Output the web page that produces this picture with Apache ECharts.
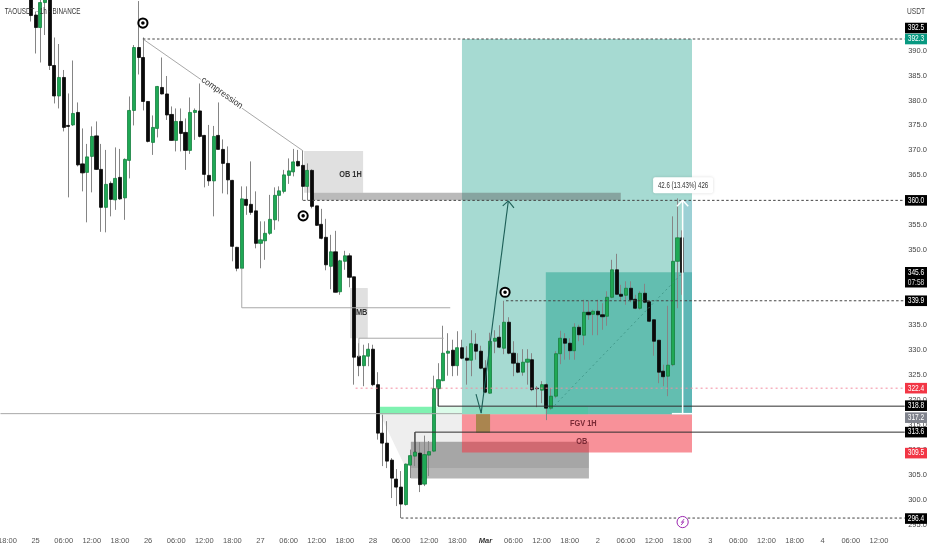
<!DOCTYPE html>
<html>
<head>
<meta charset="utf-8">
<style>html,body{margin:0;padding:0;background:#fff}#c{width:932px;height:550px}</style>
<script src="https://cdn.jsdelivr.net/npm/echarts@6/dist/echarts.min.js"></script>
</head>
<body>
<div id="c"></div>
<script>
// Hourly candles; the first one is hour 5 after the first 18:00 tick.
const firstHour = 5;
const opens = [404,397.1,394.6,399.6,404,387.0,380.9,384.6,375.0,375.1,377.6,367.3,365.6,368.8,372.9,366.2,358.6,363.4,360.1,364.6,360.5,368.0,378.0,390.6,388.6,379.8,371.6,374.4,382.6,381.3,377.2,372.0,375.8,373.6,370.0,377.6,377.9,373.0,365.0,363.9,373.0,370.2,367.4,364.0,350.6,346.4,360.2,359.2,357.9,351.4,351.9,353.4,356.1,361.0,361.8,365.0,365.7,367.8,367.0,362.8,366.0,358.9,355.2,352.6,346.8,349.7,341.7,347.8,348.9,344.7,328.8,326.9,328.8,330.2,323.1,313.4,311.4,308.0,304.2,302.6,299.1,307.0,308.8,309.4,303.2,309.0,309.8,322.3,323.9,329.4,330.0,326.9,330.5,328.4,328.0,331.2,329.8,326.4,321.4,331.8,332.6,330.4,335.6,329.4,327.4,325.6,327.6,328.1,322.4,322.0,323.1,318.4,320.8,329.3,332.3,331.4,329.9,334.6,333.0,337.6,337.2,337.8,337.1,336.8,340.6,346.1,341.2,341.0,342.4,340.2,338.4,341.4,339.7,336.1,332.0,325.8,324.8,327.1,347.8,352.5];
const closes = [397.0,394.6,399.6,402,387.0,380.9,384.6,374.6,374.8,377.4,367.1,365.5,368.7,372.8,366.2,358.6,363.2,360.2,364.4,360.3,368.2,378.0,390.6,388.6,379.8,371.8,374.6,382.8,381.3,377.1,372.0,375.8,373.4,370.0,377.6,378.0,372.8,365.2,363.9,372.8,370.2,367.4,364.1,350.8,346.4,360.3,359.0,357.6,351.4,352.1,353.4,356.2,361.0,361.9,365.1,365.9,367.7,366.9,362.8,366.0,358.8,355.0,352.4,347.1,349.7,341.6,347.9,348.9,344.6,328.6,326.9,328.9,330.2,323.1,313.4,311.4,307.8,304.4,302.6,299.2,307.2,308.9,309.6,303.1,309.1,309.7,322.3,324.1,329.4,329.8,326.9,330.5,328.4,328.0,331.3,329.8,326.4,321.6,331.8,332.4,330.6,335.6,329.4,327.4,325.6,327.6,328.2,322.1,322.3,323.1,318.4,320.8,329.3,332.4,331.4,329.9,334.6,333.1,337.6,337.1,337.8,337.1,336.7,340.6,346.1,341.2,340.8,342.4,340.1,338.4,341.4,339.6,335.8,331.8,325.6,324.7,327.0,347.8,352.5,345.6];
const lows = [395.8,389.4,387.6,393.1,386.1,379.4,378.4,373.8,360.6,374.9,366.8,361.8,355.6,361.6,366.1,353.7,353.6,356.8,358.1,360.1,356.1,364.4,375.0,385.2,378.0,371.6,369.1,372.6,381.2,376.1,372.0,369.8,369.8,366.1,369.3,372.1,372.6,362.6,362.9,356.8,370.2,361.4,361.2,347.8,345.8,346.2,357.1,357.1,350.4,346.4,348.1,353.1,354.1,355.8,361.4,363.3,364.8,366.8,360.0,360.0,358.4,354.9,352.2,346.0,342.2,341.6,341.1,346.1,342.6,323.1,324.8,322.8,326.8,322.8,312.1,306.8,306.4,300.4,298.8,296.4,298.9,304.4,306.8,301.6,302.8,304.8,309.6,318.8,323.8,324.9,324.8,324.9,328.2,323.1,324.8,328.1,326.2,321.4,321.3,329.4,330.4,329.2,329.2,324.8,325.4,324.9,323.1,321.8,318.6,319.4,316.0,318.1,320.4,327.2,328.1,328.1,328.1,331.8,331.0,336.1,333.0,333.0,334.1,334.9,340.4,341.1,339.8,339.1,339.6,338.2,338.1,339.4,335.6,328.9,323.4,322.8,320.8,326.8,338.4,341.1];
const highs = [406,397.8,400.6,403,405,392.6,391.3,386.1,381.4,388.0,379.6,374.4,371.3,374.8,375.8,371.3,370.1,363.8,370.6,370.3,368.4,380.8,391.1,399.9,392.6,379.8,377.0,382.9,388.6,384.9,378.8,378.4,378.4,376.4,380.6,378.4,383.4,373.1,375.1,374.9,379.6,372.2,370.8,364.1,350.7,362.8,362.8,367.8,361.8,355.8,355.8,361.1,362.6,362.8,366.1,368.4,370.3,370.1,370.0,367.4,366.2,358.9,358.3,356.3,353.1,353.9,348.1,349.9,349.4,344.7,331.4,331.1,331.4,331.1,325.6,317.1,315.8,308.4,306.2,305.8,307.3,310.1,313.6,311.6,312.9,311.8,324.9,327.4,334.9,333.4,332.1,333.8,332.1,330.8,334.0,333.4,330.9,328.0,333.5,334,335,339.9,336.6,331.8,329.4,330.2,330.2,329.4,322.8,323.8,323.4,322.4,329.8,333.9,333.4,332.4,335.4,335.1,340.1,339.8,338.1,340.1,339.4,341.8,348.1,349.3,343.1,343.8,343.8,341.1,341.8,343.3,340.0,336.1,332.0,327.1,338.9,356.8,360.4,354.0];

// One label for every 6 hours, starting at the first 18:00.
const tickLabels = ["18:00","25","06:00","12:00","18:00","26","06:00","12:00","18:00","27","06:00","12:00","18:00","28","06:00","12:00","18:00","Mar","06:00","12:00","18:00","2","06:00","12:00","18:00","3","06:00","12:00","18:00","4","06:00","12:00"];
const hourFrom = -1, hourCount = 193;

// Filled zones, in hours and prices.
const zoneNames = ["ob1h","mb","greyA","greyB","target","stop","progress","tail","fvgStrong","fvgSoft","entry","obBar"];
const zoneLeft  = [63.3,73.1,86.1,86.1,97.0,97.0,114.9,144.2,79.5,90.8,100.0,65.2];
const zoneRight = [75.9,76.9,124.1,124.1,146.1,146.1,146.1,146.1,90.8,123.9,103.0,130.9];
const zoneTop   = [369.9,342.45,311.7,306.4,392.3,317.2,345.6,360.0,318.7,318.7,317.2,361.5];
const zoneBase  = [361.5,332.4,306.4,304.3,317.2,309.5,317.2,317.2,317.2,317.2,313.5,360.0];
const zoneFill  = {ob1h:"rgba(120,120,120,.23)",mb:"rgba(120,120,120,.23)",greyA:"rgba(70,70,70,.48)",greyB:"rgba(70,70,70,.4)",target:"rgba(8,153,129,.36)",stop:"rgba(242,54,69,.55)",progress:"rgba(8,153,129,.42)",tail:"rgba(41,98,255,.08)",fvgStrong:"rgba(0,230,100,.5)",fvgSoft:"rgba(0,230,100,.14)",entry:"rgba(150,130,60,.8)",obBar:"rgba(90,90,90,.42)"};
// Pale gap under the green band.
const gapHours  = [79.5,97.0,97.0,86.1,86.1,84.8];
const gapPrices = [317.2,317.2,311.7,311.7,306.8,306.8];

// Drawn lines: [hour, price, hour, price].
const dashedLevels = [[28.9,392.3,191.5,392.3],[63.1,360.0,191.5,360.0],[106.4,339.9,191.5,339.9],[84.0,296.4,191.5,296.4]];
const dottedLevels = [[74.3,322.4,191.5,322.4]];
const solidLevels  = [[91.9,318.8,191.5,318.8],[91.9,318.8,91.9,322.3],[87.0,313.6,191.5,313.6],[87.0,313.6,87.0,309.6]];
const greyLines    = [[28.9,392.3,63.1,369.9],[50.0,346.4,50.0,338.5],[50.0,338.5,94.5,338.5],[75.0,328.6,75.0,332.4],[75.0,332.4,93.1,332.4],[-1.5,317.3,97.0,317.3]];
const arrowLines   = [[100.0,321.2,101.1,317.4],[101.1,317.4,106.9,359.9],[105.7,358.9,106.9,359.9],[106.9,359.9,108.1,358.5]];
const measureLines = [[144.1,360.0,144.1,317.2],[141.8,317.3,146.1,317.3],[142.9,358.8,144.1,360.0],[144.1,360.0,145.3,358.8]];
const measureTrend = [[116.0,318.2,144.2,345.6]];

// Eye markers and the lightning marker.
const eyeHours = [28.9,63.1,106.2], eyePrices = [395.5,356.9,341.6];
const flashHour = 144.1, flashPrice = 295.6;

// Notes on the chart.
const noteText  = ["compression","OB 1H","MB","FGV 1H","OB"];
const noteHour  = [45.8,73.2,75.6,122.9,122.6];
const notePrice = [381.5,365.1,337.6,315.4,311.7];
const measureText = "42.6 (13.43%) 426", measureHour = 144.2, measurePrice = 363.0;
const symbolText = "TAOUSDT · 1h · BINANCE", symbolHour = -0.6, symbolPrice = 397.8;
const currencyText = "USDT", currencyHour = 193.9, currencyPrice = 397.7;

// Price tags: text, where it sits, and its kind.
const tagText  = ["392.5","392.3","360.0","345.6","339.9","322.4","318.8","317.2","313.6","309.5","296.4"];
const tagPrice = [394.5,392.3,360.0,345.6,339.9,322.4,318.9,316.5,313.6,309.4,296.3];
const tagKind  = ["k","t","k","k","k","r","k","g","k","r","k"];
const tagFill  = {k:"#000000",t:"#089981",r:"#f23645",g:"#80838d"};
const clockText = "07:58";

const FONT = '"Liberation Sans",sans-serif';
const GREEN = "#1fa855", DARK = "#0a0a0a", WICK = "#858585";

const cats = Array.from({length:hourCount},(_,k)=>String(hourFrom+k));
const pad = Array.from({length:firstHour-hourFrom},()=>["-","-","-","-"]);
const wickData = pad.concat(opens.map((o,k)=>[o,closes[k],lows[k],highs[k]]));
const bodyData = pad.concat(opens.map((o,k)=>[o,closes[k],Math.min(o,closes[k]),Math.max(o,closes[k])]));

function custom(count,z,draw){
  return {type:"custom",xAxisIndex:1,yAxisIndex:0,z:z,silent:true,clip:false,
    data:Array.from({length:count},(_,k)=>[k,340]),
    renderItem:(p,api)=>draw(p.dataIndex,(h,v)=>api.coord([h,v]))};
}
function segs(rows,style,z){
  return custom(rows.length,z,(k,xy)=>{
    const a=xy(rows[k][0],rows[k][1]),b=xy(rows[k][2],rows[k][3]);
    return {type:"line",shape:{x1:a[0],y1:a[1],x2:b[0],y2:b[1]},style:style};
  });
}
const noteStyle = k => k===0
  ? {fill:"#333",font:'9px '+FONT,backgroundColor:"#fff",padding:[0,1]}
  : k>=3 ? {fill:"#7a2a36",font:'bold 9px '+FONT}
  : {fill:"#333",font:'bold 9px '+FONT};

const option = {
  animation:false,
  backgroundColor:"#fff",
  grid:{left:0.47,right:27.3,top:0.55,height:524.5,outerBoundsMode:"none"},
  xAxis:[
    {type:"category",data:cats,boundaryGap:true,
     axisLine:{show:false},axisTick:{show:false},splitLine:{show:false},
     axisLabel:{margin:12,color:"#555",fontFamily:FONT,fontSize:7.5,hideOverlap:false,
       interval:(k,v)=>{const h=+v;return h>=0&&h%6===0&&h/6<tickLabels.length;},
       formatter:v=>{const t=tickLabels[(+v)/6];return t==="Mar"?"{m|Mar}":t;},
       rich:{m:{fontStyle:"italic",fontWeight:"bold",color:"#333",fontFamily:FONT,fontSize:7.5}}}},
    {type:"value",show:false,min:hourFrom-0.5,max:hourFrom+hourCount-0.5,splitLine:{show:false}}
  ],
  yAxis:{type:"value",position:"right",min:295,max:400,interval:5,scale:true,
    axisLine:{show:false},axisTick:{show:false},splitLine:{show:false},
    axisLabel:{margin:3.5,color:"#444",fontFamily:FONT,fontSize:7.5,showMaxLabel:false,
      formatter:v=>v>390?"":v.toFixed(1)}},
  series:[
    custom(1,1,(k,xy)=>({type:"polygon",shape:{points:gapHours.map((h,n)=>xy(h,gapPrices[n]))},style:{fill:"#eeeeee"}})),
    custom(zoneNames.length,1,(k,xy)=>{
      const a=xy(zoneLeft[k],zoneTop[k]),b=xy(zoneRight[k],zoneBase[k]);
      return {type:"rect",shape:{x:a[0],y:a[1],width:b[0]-a[0],height:b[1]-a[1]},style:{fill:zoneFill[zoneNames[k]]}};
    }),
    {type:"candlestick",xAxisIndex:0,yAxisIndex:0,z:3,data:wickData,barWidth:1,silent:true,
     itemStyle:{color:WICK,color0:WICK,borderColor:WICK,borderColor0:WICK,borderWidth:1}},
    {type:"candlestick",xAxisIndex:0,yAxisIndex:0,z:4,data:bodyData,barWidth:3.6,silent:true,
     itemStyle:{color:GREEN,color0:DARK,borderColor:"#15803f",borderColor0:DARK,borderWidth:0.8}},
    segs(greyLines,{stroke:"#a8a8a8",lineWidth:1},5),
    segs(dashedLevels,{stroke:"#444",lineWidth:1,lineDash:[2.5,2.2]},5),
    segs(dottedLevels,{stroke:"#f28ca0",lineWidth:1,lineDash:[2,3]},5),
    segs(solidLevels,{stroke:"#2e2e2e",lineWidth:1},5),
    segs(measureTrend,{stroke:"#3a8f80",lineWidth:0.8,lineDash:[2,3]},5),
    segs(arrowLines,{stroke:"#1d5f57",lineWidth:1.1},6),
    segs(measureLines,{stroke:"#ffffff",lineWidth:1.5},6),
    custom(eyeHours.length,7,(k,xy)=>{
      const c=xy(eyeHours[k],eyePrices[k]);
      return {type:"group",children:[
        {type:"circle",shape:{cx:c[0],cy:c[1],r:4.6},style:{fill:"#fff",stroke:"#000",lineWidth:2}},
        {type:"circle",shape:{cx:c[0],cy:c[1],r:1.8},style:{fill:"#000"}}]};
    }),
    custom(1,7,(k,xy)=>{
      const c=xy(flashHour,flashPrice);
      return {type:"group",children:[
        {type:"circle",shape:{cx:c[0],cy:c[1],r:5.6},style:{fill:"#fff",stroke:"#9c27b0",lineWidth:1}},
        {type:"polyline",shape:{points:[[c[0]+1.5,c[1]-3],[c[0]-1.2,c[1]+0.3],[c[0]+1.2,c[1]-0.3],[c[0]-1.5,c[1]+3]]},style:{fill:null,stroke:"#9c27b0",lineWidth:0.9}}]};
    }),
    custom(noteText.length,7,(k,xy)=>{
      const c=xy(noteHour[k],notePrice[k]);
      return {type:"text",x:c[0],y:c[1],rotation:k===0?-0.61:0,scaleX:k===0?0.95:0.82,
        style:Object.assign({text:noteText[k],align:"center",verticalAlign:"middle"},noteStyle(k))};
    }),
    custom(1,8,(k,xy)=>{
      const c=xy(measureHour,measurePrice);
      return {type:"group",children:[
        {type:"rect",shape:{x:c[0]-30,y:c[1]-8,width:60,height:16,r:2},style:{fill:"#fff",shadowBlur:3,shadowColor:"rgba(0,0,0,.15)"}},
        {type:"text",x:c[0],y:c[1],scaleX:0.72,style:{text:measureText,align:"center",verticalAlign:"middle",fill:"#333",font:'8.5px '+FONT}}]};
    }),
    custom(tagText.length,9,(k,xy)=>{
      const c=xy(hourFrom+hourCount-0.5,tagPrice[k]);
      const two=tagText[k]==="345.6";
      const kids=[{type:"rect",shape:{x:c[0]+0.3,y:c[1]-5.3,width:22,height:two?20.5:10.6},style:{fill:tagFill[tagKind[k]]}},
        {type:"text",x:c[0]+11.3,y:c[1],scaleX:0.78,style:{text:tagText[k],align:"center",verticalAlign:"middle",fill:"#fff",font:'8.5px '+FONT}}];
      if(two)kids.push({type:"text",x:c[0]+11.3,y:c[1]+10,scaleX:0.78,style:{text:clockText,align:"center",verticalAlign:"middle",fill:"#ddd",font:'8.5px '+FONT}});
      return {type:"group",children:kids};
    }),
    custom(1,9,(k,xy)=>{
      const c=xy(currencyHour,currencyPrice);
      return {type:"text",x:c[0],y:c[1],scaleX:0.78,style:{text:currencyText,align:"center",verticalAlign:"middle",fill:"#444",font:'8.5px '+FONT}};
    }),
    custom(1,9,(k,xy)=>{
      const c=xy(symbolHour,symbolPrice);
      return {type:"text",x:c[0],y:c[1],scaleX:0.74,style:{text:symbolText,align:"left",verticalAlign:"middle",fill:"#333",font:'8.5px '+FONT}};
    })
  ]
};
echarts.init(document.getElementById("c"),null,{renderer:"canvas"}).setOption(option);
</script>
</body>
</html>
